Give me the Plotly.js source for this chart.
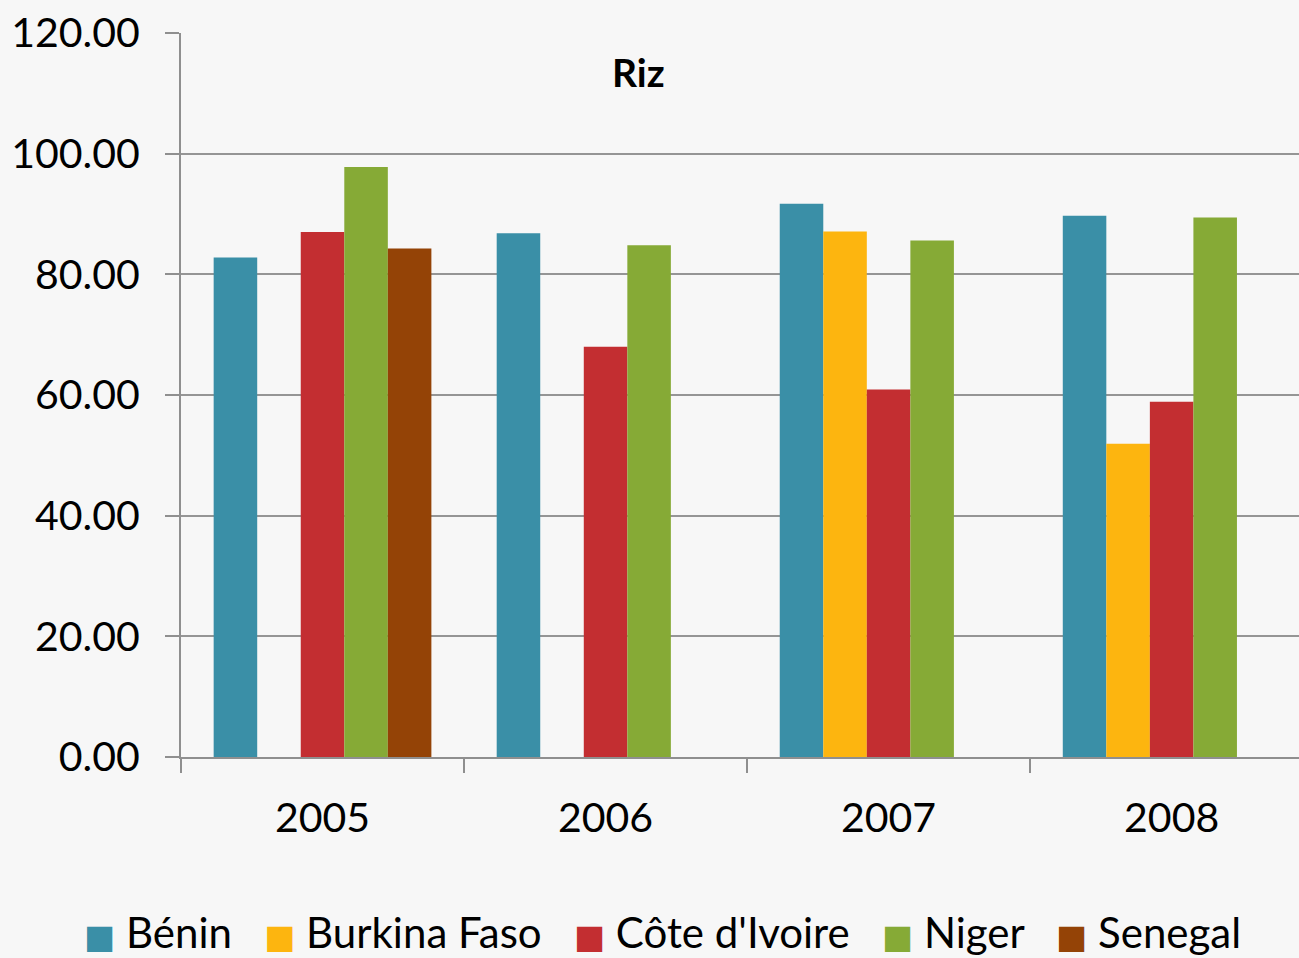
<!DOCTYPE html>
<html>
<head>
<meta charset="utf-8">
<script src="https://cdn.plot.ly/plotly-3.0.1.min.js"></script>
<style>
  html, body { margin: 0; padding: 0; background: #f7f7f7; }
  #chart { width: 1299px; height: 958px; }
</style>
</head>
<body>
<div id="chart"></div>
<script>
const years = ['2005', '2006', '2007', '2008'];
const countries = ['Bénin', 'Burkina Faso', "Côte d'Ivoire", 'Niger', 'Senegal'];
const benin = [82.8, 86.8, 91.7, 89.7];
const burkina = [null, null, 87.1, 51.9];
const coteIvoire = [87.0, 68.0, 60.9, 58.9];
const niger = [97.8, 84.8, 85.6, 89.4];
const senegal = [84.3, null, null, null];
const yTicks = [0, 20, 40, 60, 80, 100, 120];
const colors = ['#3a8fa7', '#fdb50f', '#c32e31', '#86aa36', '#944306'];
const seriesValues = [benin, burkina, coteIvoire, niger, senegal];

const FONT = 'Lato, "Open Sans", sans-serif';

const traces = seriesValues.map((vals, i) => ({
  type: 'bar', x: years, y: vals, name: countries[i],
  marker: { color: colors[i], line: { width: 0 } },
  showlegend: false, hoverinfo: 'x+y+name'
}));

// Legend drawn as a single text line with coloured square swatches
const legendText = countries.map((c, i) =>
  '<span style="color:' + colors[i] + ';font-family:DejaVu Sans;font-size:33px">■</span>\u00a0' + c
).join('\u00a0\u00a0\u00a0');

const layout = {
  width: 1299, height: 958,
  paper_bgcolor: 'rgba(0,0,0,0)', plot_bgcolor: 'rgba(0,0,0,0)',
  margin: { l: 181, r: 0, t: 33, b: 201, pad: 0 },
  barmode: 'group', bargap: 0.2308, bargroupgap: 0,
  font: { family: FONT, color: '#000000' },
  showlegend: false,
  title: {
    text: '<b>Riz</b>', font: { family: FONT, size: 39, color: '#000' },
    x: 0.409, xanchor: 'center', xref: 'paper',
    y: 0.923, yanchor: 'middle', yref: 'container'
  },
  xaxis: {
    type: 'category', range: [-0.5, 3.45],
    showline: true, linecolor: '#8f8f8f', linewidth: 2,
    ticks: 'outside', tickson: 'boundaries', ticklen: 14, tickcolor: '#8f8f8f', tickwidth: 2,
    tickfont: { family: FONT, size: 41, color: '#000' },
    ticklabelstandoff: 24,
    showgrid: false, zeroline: false, fixedrange: true
  },
  yaxis: {
    range: [0, 120], tickvals: yTicks, tickformat: '.2f',
    showline: true, linecolor: '#8f8f8f', linewidth: 2,
    ticks: 'outside', ticklen: 14, tickcolor: '#8f8f8f', tickwidth: 2,
    tickfont: { family: FONT, size: 41, color: '#000' },
    ticklabelstandoff: 17,
    showgrid: true, gridcolor: '#959595', gridwidth: 2,
    zeroline: false, fixedrange: true
  },
  annotations: [{
    text: legendText, showarrow: false,
    xref: 'paper', yref: 'paper',
    x: (662 - 181) / 1118, xanchor: 'center',
    y: (757 - 932) / 724, yanchor: 'middle',
    font: { family: FONT, size: 42, color: '#000' }
  }]
};

Plotly.newPlot('chart', traces, layout, { displayModeBar: false, staticPlot: true });
</script>
</body>
</html>
